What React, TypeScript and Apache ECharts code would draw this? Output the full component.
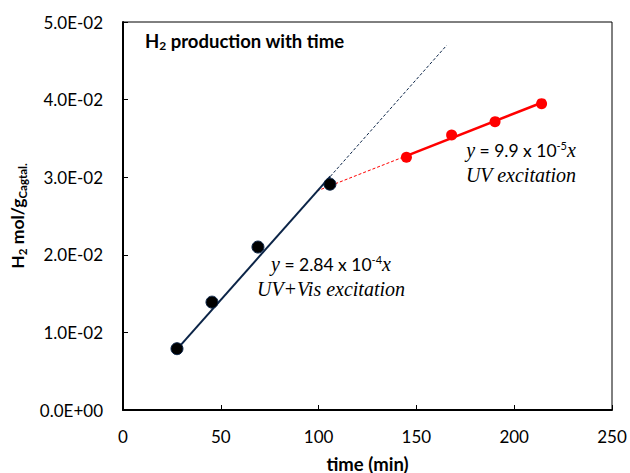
import React, { useEffect, useRef } from "react";
import * as echarts from "echarts";

const uvVisTime = [27.6, 45.5, 69.0, 105.8];
const uvVisH2 = [0.0079, 0.0139, 0.0210, 0.0291];
const uvTime = [144.9, 168.0, 190.2, 214.0];
const uvH2 = [0.03256, 0.03544, 0.03716, 0.03948];
const uvVisSlope = 2.84e-4;
const uvVisFitSolidX = [28, 106];
const uvVisFitDashX = [106, 165.5];
const uvSlope = 9.9e-5;
const uvIntercept = 0.01841;
const uvFitSolidX = [144.9, 214];
const uvFitDashX = [99, 144.9];
const xTickLabels = ["0", "50", "100", "150", "200", "250"];
const yTickLabels = ["0.0E+00", "1.0E-02", "2.0E-02", "3.0E-02", "4.0E-02", "5.0E-02"];

const SANS = "Lato, 'Open Sans', sans-serif";
const SERIF = "'Liberation Serif', 'DejaVu Serif', serif";
const NAVY = "#0b2447";
const RED = "#ff0000";

export default function App() {
  const ref = useRef<HTMLDivElement>(null);
  useEffect(() => {
    if (!ref.current) return;
    const chart = echarts.init(ref.current, null, { renderer: "svg" });
    const pairs = (xs: number[], ys: number[]) => xs.map((x, i) => [x, ys[i]]);
    const fitUvVis = (xs: number[]) => xs.map((x) => [x, uvVisSlope * x]);
    const fitUv = (xs: number[]) => xs.map((x) => [x, uvIntercept + uvSlope * x]);
    const eqRich = {
      i: { fontFamily: SERIF, fontStyle: "italic", fontSize: 20, fill: "#000" },
      n: { fontFamily: SANS, fontSize: 17.5, fill: "#000" },
      s: { fontFamily: SANS, fontSize: 11, fill: "#000", padding: [0, 0, 10, 0] },
    };
    const option: any = {
      animation: false,
      backgroundColor: "#ffffff",
      grid: {
        left: 123, top: 22, width: 489, height: 388,
        outerBoundsMode: "none", containLabel: false,
        show: true, borderColor: "#000", borderWidth: 1, backgroundColor: "transparent",
      },
      xAxis: {
        type: "value", min: 0, max: 250, interval: 50,
        name: "time (min)", nameLocation: "middle", nameGap: 44,
        nameTextStyle: { fontFamily: SANS, fontSize: 18.5, fontWeight: "bold", color: "#000" },
        axisLine: { show: true, lineStyle: { color: "#000", width: 2 } },
        axisTick: { show: true, inside: true, length: 5, lineStyle: { color: "#000", width: 1 } },
        axisLabel: {
          margin: 18, fontFamily: SANS, fontSize: 17, color: "#000",
          formatter: (v: number) => xTickLabels[Math.round(v / 50)] ?? String(v),
        },
        splitLine: { show: false },
      },
      yAxis: {
        type: "value", min: 0, max: 0.05, interval: 0.01,
        name: "{b|H}{bs|2}{b| mol/g}{bs|Cagtal.}", nameLocation: "middle", nameGap: 95, nameRotate: 90,
        nameTextStyle: {
          rich: {
            b: { fontFamily: SANS, fontSize: 17.5, fontWeight: "bold", color: "#000" },
            bs: { fontFamily: SANS, fontSize: 11.5, fontWeight: "bold", color: "#000", padding: [9, 0, 0, 0] },
          },
        },
        axisLine: { show: true, lineStyle: { color: "#000", width: 2 } },
        axisTick: { show: true, inside: true, length: 5, lineStyle: { color: "#000", width: 1 } },
        axisLabel: {
          margin: 20, fontFamily: SANS, fontSize: 17, color: "#000",
          formatter: (v: number) => yTickLabels[Math.round(v / 0.01)] ?? String(v),
        },
        splitLine: { show: false },
      },
      series: [
        {
          type: "line", data: fitUvVis(uvVisFitDashX), symbol: "none",
          lineStyle: { color: NAVY, width: 1, type: [3, 2] }, z: 1,
        },
        {
          type: "line", data: fitUvVis(uvVisFitSolidX), symbol: "none",
          lineStyle: { color: NAVY, width: 2 }, z: 2,
        },
        {
          type: "line", data: fitUv(uvFitDashX), symbol: "none",
          lineStyle: { color: RED, width: 1, type: [3, 2] }, z: 1,
        },
        {
          type: "line", data: fitUv(uvFitSolidX), symbol: "none",
          lineStyle: { color: RED, width: 2.5 }, z: 2,
        },
        {
          type: "scatter", data: pairs(uvTime, uvH2), symbol: "circle", symbolSize: 11,
          itemStyle: { color: RED, opacity: 1 }, z: 3,
        },
        {
          type: "scatter", data: pairs(uvVisTime, uvVisH2), symbol: "circle", symbolSize: 12,
          itemStyle: { color: "#000", borderColor: NAVY, borderWidth: 1, opacity: 1 }, z: 4,
        },
      ],
      graphic: [
        {
          type: "text", left: 145, top: 31,
          style: {
            text: "{b|H}{bs|2}{b| production with time}",
            rich: {
              b: { fontFamily: SANS, fontSize: 18.5, fontWeight: "bold", fill: "#000" },
              bs: { fontFamily: SANS, fontSize: 12, fontWeight: "bold", fill: "#000", padding: [9, 0, 0, 0] },
            },
          },
        },
        {
          type: "text", x: 331, y: 264,
          style: { text: "{i|y}{n| = 2.84 x 10}{s|-4}{i|x}", align: "center", verticalAlign: "middle", rich: eqRich },
        },
        {
          type: "text", x: 331, y: 289,
          style: {
            text: "UV+Vis excitation", align: "center", verticalAlign: "middle",
            fontFamily: SERIF, fontStyle: "italic", fontSize: 20, fill: "#000",
          },
        },
        {
          type: "text", x: 521, y: 150,
          style: { text: "{i|y}{n| = 9.9 x 10}{s|-5}{i|x}", align: "center", verticalAlign: "middle", rich: eqRich },
        },
        {
          type: "text", x: 521, y: 175,
          style: {
            text: "UV excitation", align: "center", verticalAlign: "middle",
            fontFamily: SERIF, fontStyle: "italic", fontSize: 20, fill: "#000",
          },
        },
      ],
    };
    chart.setOption(option);
    return () => chart.dispose();
  }, []);
  return <div ref={ref} style={{ width: 630, height: 473, position: "absolute", left: 0, top: 0 }} />;
}
